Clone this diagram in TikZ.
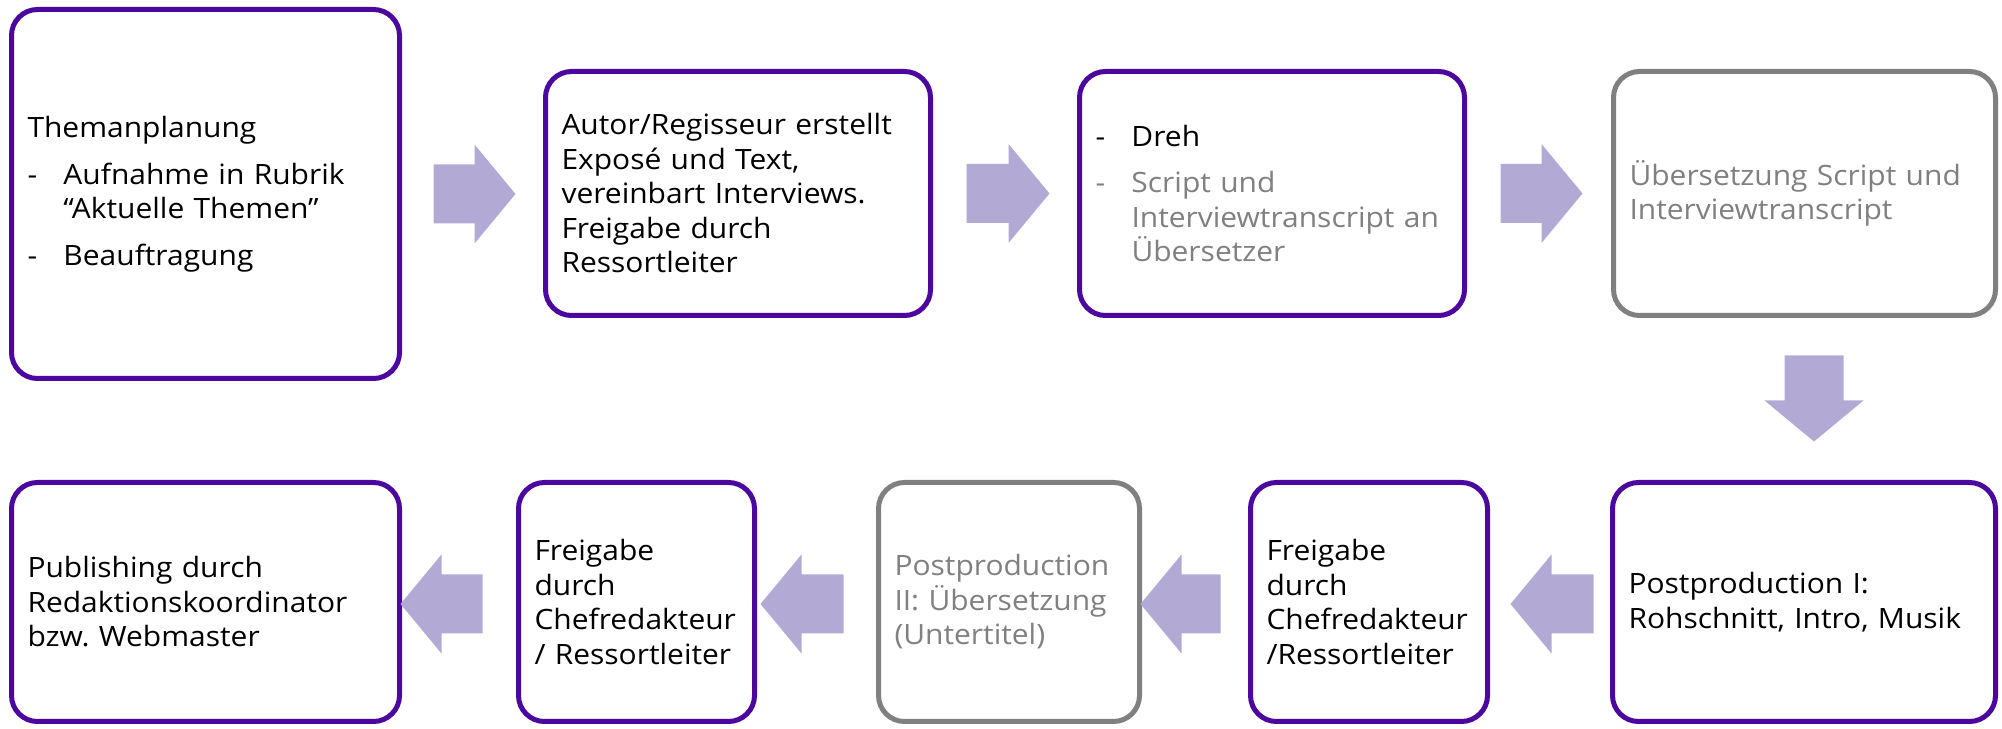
\documentclass[tikz,border=0pt]{standalone}
\usepackage{fontspec}
\setmainfont[FakeStretch=1.07]{Open Sans}
\usetikzlibrary{calc}
\definecolor{boxpurple}{RGB}{76,8,158}
\definecolor{boxgray}{RGB}{128,128,128}
\definecolor{arrowfill}{RGB}{178,170,212}
\definecolor{txtgray}{RGB}{128,128,128}
\newcommand{\dashitem}{\makebox[18pt][l]{-}}
\newcommand{\itemgap}{\hspace*{18pt}}
\newcommand{\blockarrow}[3]{%
  \begin{scope}[shift={#1}, rotate=#2]
    \fill[arrowfill] (0,-29.5) -- ({#3-41},-29.5) -- ({#3-41},-49.5) -- (#3,0)
      -- ({#3-41},49.5) -- ({#3-41},29.5) -- (0,29.5) -- cycle;
  \end{scope}}
\tikzset{
  stepbox/.style={draw=boxpurple, line width=2.5pt, rounded corners=13pt,
    fill=white, inner xsep=8pt, inner ysep=0pt, align=left,
    font=\fontsize{14pt}{17.25pt}\selectfont, text=black},
  graybox/.style={stepbox, draw=boxgray, text=txtgray},
}
\begin{document}
\begin{tikzpicture}[x=0.5pt, y=0.5pt]
\useasboundingbox (0,0) rectangle (2002,728);
% top row
\node[stepbox, minimum width=194pt, minimum height=184.5pt, text width=178pt] (b1) at (205.5,534)
  {Themanplanung\\[6pt]
   \dashitem Aufnahme in Rubrik\\
   \itemgap “Aktuelle Themen”\\[6pt]
   \dashitem Beauftragung};
\node[stepbox, minimum width=192.5pt, minimum height=122pt, text width=176.5pt] (b2) at (738,534.5)
  {Autor/Regisseur~erstellt\\
   Exposé und Text,\\
   vereinbart~Interviews.\\
   Freigabe durch\\
   Ressortleiter};
\node[stepbox, minimum width=192.5pt, minimum height=122pt, text width=176.5pt] (b3) at (1272,534.5)
  {\dashitem Dreh\\[6pt]
   \textcolor{txtgray}{\dashitem Script und}\\
   \textcolor{txtgray}{\itemgap Interviewtranscript~an}\\
   \textcolor{txtgray}{\itemgap Übersetzer}};
\node[graybox, minimum width=191pt, minimum height=122pt, text width=175pt] (b4) at (1804.5,534.5)
  {Übersetzung~Script~und\\
   Interviewtranscript};
% bottom row
\node[stepbox, minimum width=191.5pt, minimum height=119.5pt, text width=175.5pt] (b5) at (1804,126)
  {Postproduction I:\\
   Rohschnitt,~Intro,~Musik};
\node[stepbox, minimum width=118.5pt, minimum height=119.5pt, text width=102.5pt] (b6) at (1369,126)
  {Freigabe\\
   durch\\
   Chefredakteur\\
   /Ressortleiter};
\node[graybox, minimum width=130.5pt, minimum height=119.5pt, text width=114.5pt] (b7) at (1009,126)
  {Postproduction\\
   II:~Übersetzung\\
   (Untertitel)};
\node[stepbox, minimum width=118pt, minimum height=119.5pt, text width=102pt] (b8) at (636.5,126)
  {Freigabe\\
   durch\\
   Chefredakteur\\
   /~Ressortleiter};
\node[stepbox, minimum width=194pt, minimum height=119.5pt, text width=178pt] (b9) at (205.5,126)
  {Publishing~durch\\
   Redaktionskoordinator\\
   bzw.~Webmaster};
% block arrows
\blockarrow{($(b1.east)+(31.5,0)$)}{0}{82}
\blockarrow{($(b2.east)+(33.5,0)$)}{0}{83}
\blockarrow{($(b3.east)+(33.5,0)$)}{0}{82}
\blockarrow{($(b4.south)+(9.5,-37.5)$)}{-90}{86}
\blockarrow{($(b5.west)+(-16.5,-2)$)}{180}{83}
\blockarrow{($(b6.west)+(-27.5,-2)$)}{180}{80}
\blockarrow{($(b7.west)+(-32.5,-2)$)}{180}{83}
\blockarrow{($(b8.west)+(-33.5,-2)$)}{180}{82}
\end{tikzpicture}
\end{document}
